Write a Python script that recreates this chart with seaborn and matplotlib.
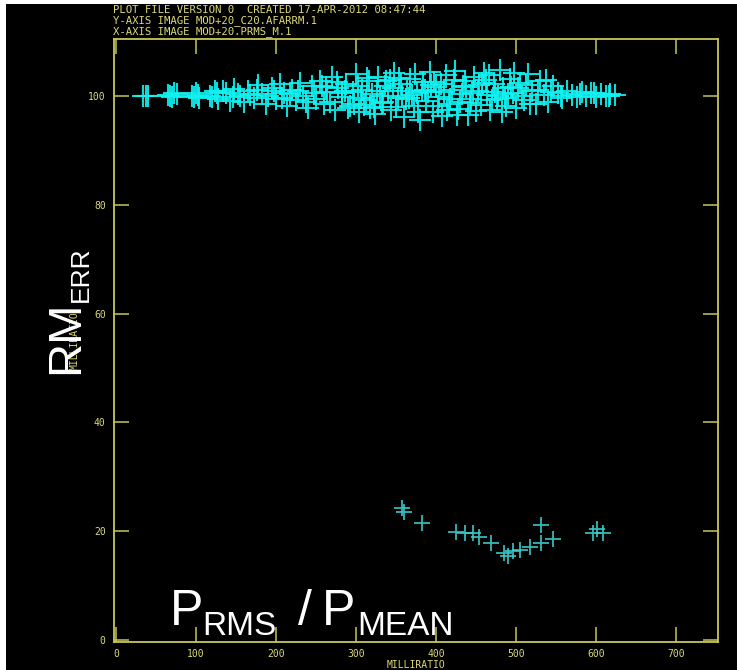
import matplotlib
matplotlib.use("Agg")
import matplotlib.pyplot as plt
from matplotlib.patches import Rectangle
import seaborn as sns
import pandas as pd

W, H = 737, 670

# header lines
HEADER = [
    "PLOT FILE VERSION 0  CREATED 17-APR-2012 08:47:44",
    "Y-AXIS IMAGE MOD+20_C20.AFARRM.1",
    "X-AXIS IMAGE MOD+20.PRMS_M.1",
]
X_LABEL = "MILLIRATIO"
Y_LABEL = "MILLIRATIO"
X_TICKS = [0, 100, 200, 300, 400, 500, 600, 700]
Y_TICKS = [0, 20, 40, 60, 80, 100]

# main band near 100 (PRMS/PMEAN in milliratio, RMERR)
band_x = [34, 37, 65, 70, 76, 95, 100, 104, 118, 124, 128, 138, 142, 148, 155, 160,
          165, 172, 178, 183, 188, 195, 200, 205, 210, 214, 220, 225, 230, 234, 240,
          245, 250, 255, 260, 264, 270, 274, 278, 283, 288, 292, 296, 300, 304, 308,
          312, 316, 320, 324, 328, 332, 336, 340, 344, 348, 352, 356, 360, 364, 368,
          372, 376, 380, 384, 388, 392, 396, 400, 404, 408, 412, 416, 420, 424, 428,
          432, 436, 440, 444, 448, 452, 456, 460, 464, 468, 472, 476, 480, 484, 488,
          492, 496, 500, 505, 510, 515, 520, 525, 530, 535, 540, 546, 552, 558, 564,
          570, 576, 582, 588, 594, 600, 606, 612, 618, 624,
          262, 286, 310, 334, 358, 382, 406, 430, 454, 478, 502, 318, 342, 366, 390,
          414, 438, 462, 486, 298, 346, 394, 442, 490,
          40, 68, 72, 98, 102, 120, 126, 134, 146, 152, 168, 176, 190, 198, 208,
          218, 228, 238, 248, 258, 268, 276, 282, 290, 302, 306, 314, 322, 326, 330,
          338, 350, 354, 362, 370, 374, 378, 386, 398, 402, 410, 418, 422, 426, 434,
          446, 450, 458, 466, 470, 474, 482, 494, 498, 508, 512, 518, 528, 538, 544,
          556, 580, 598, 616]
band_y = [100.0, 100.0, 100.2, 99.9, 100.4, 100.0, 100.6, 99.6, 100.1, 101.0, 99.4,
          100.5, 99.1, 101.3, 100.0, 98.9, 101.0, 99.7, 102.0, 100.3, 98.5, 101.5,
          99.4, 102.3, 100.6, 98.2, 101.2, 99.2, 102.5, 100.0, 97.8, 101.8, 99.5,
          102.8, 98.5, 100.8, 103.5, 97.5, 101.5, 99.8, 102.2, 98.2, 100.7, 104.0,
          97.0, 101.2, 99.2, 102.8, 100.3, 96.8, 103.6, 98.8, 101.8, 100.9, 97.5,
          104.2, 99.6, 102.3, 96.2, 101.0, 103.2, 98.2, 100.5, 95.6, 102.6, 99.1,
          104.4, 97.0, 101.6, 99.9, 96.3, 103.8, 98.6, 101.2, 104.6, 97.6, 100.3,
          102.7, 96.5, 99.4, 103.5, 101.0, 98.4, 104.3, 100.2, 97.5, 102.2, 99.5,
          104.8, 101.5, 98.2, 103.2, 100.6, 97.8, 102.5, 99.3, 104.0, 101.0, 98.5,
          102.8, 100.2, 99.0, 101.8, 100.5, 99.6, 101.0, 100.2, 99.8, 100.8, 100.1,
          100.5, 99.9, 100.4, 100.1, 100.3, 100.2,
          101.6, 100.9, 98.4, 99.0, 100.0, 101.0, 102.2, 99.0, 102.0, 100.0, 101.4,
          97.8, 103.0, 99.6, 100.8, 97.4, 101.6, 103.0, 99.6, 98.6, 101.4, 102.0,
          98.8, 100.4,
          100.1, 100.0, 100.5, 99.8, 100.2, 99.8, 100.6, 100.9, 99.8, 100.4, 100.2,
          101.2, 100.0, 100.9, 99.6, 100.4, 101.0, 99.0, 100.5, 101.8, 99.0, 102.6,
          100.6, 97.8, 101.8, 99.6, 103.4, 98.0, 101.0, 100.0, 102.8, 98.0, 103.4,
          99.4, 100.2, 104.0, 97.0, 101.2, 102.6, 98.2, 100.8, 99.4, 103.0, 96.6,
          101.8, 100.6, 97.2, 102.4, 103.8, 99.2, 100.8, 97.0, 101.6, 104.2, 100.0,
          102.0, 98.6, 101.2, 103.0, 100.8, 100.0, 100.4, 100.6, 100.0]

# low group near 20
low_x = [357, 360, 382, 425, 436, 446, 454, 469, 485, 490, 496, 505, 517, 531,
         531, 546, 596, 601, 609]
low_y = [24.3, 23.5, 21.5, 19.9, 19.7, 19.6, 19.0, 17.8, 16.0, 15.4, 16.4, 16.5,
         17.1, 21.1, 17.8, 18.6, 19.7, 20.4, 19.7]

LINE = "#c9c65a"
TXT = "#dcd878"


def fx(px):
    return px / W


def fy(py):
    return 1 - py / H


sns.set_style("dark")
plt.rcParams["font.family"] = ["DejaVu Sans Mono"]

fig = plt.figure(figsize=(W / 100, H / 100), dpi=100, facecolor="white")
fig.add_artist(Rectangle((fx(6), 0), 1 - fx(6), fy(4), transform=fig.transFigure,
                         facecolor="black", edgecolor="none", zorder=-10))

ax = fig.add_axes([fx(114), fy(642), fx(718) - fx(114), fy(39) - fy(642)])
ax.set_facecolor("black")

band = pd.DataFrame({"x": band_x, "y": band_y})
low = pd.DataFrame({"x": low_x, "y": low_y})
sns.scatterplot(data=band, x="x", y="y", marker="+", s=260, color="#12f2f2",
                linewidth=1.5, alpha=0.9, ax=ax)
sns.scatterplot(data=low, x="x", y="y", marker="+", s=120, color="#3ccccc",
                linewidth=1.3, alpha=0.9, ax=ax)

ax.set_xlim(-2.5, 752.5)
ax.set_ylim(-0.37, 110.5)
ax.set_xticks(X_TICKS)
ax.set_yticks(Y_TICKS)
ax.grid(False)
for s in ax.spines.values():
    s.set_visible(True)
    s.set_color(LINE)
    s.set_linewidth(1.3)
ax.tick_params(direction="in", length=11, width=1.1, color=LINE, labelcolor=TXT,
               labelsize=7, top=True, right=True, bottom=True, left=True)
ax.tick_params(axis="x", pad=5)
ax.tick_params(axis="y", pad=6)
ax.set_xlabel(X_LABEL, color=TXT, fontsize=7, labelpad=1)
ax.set_ylabel(Y_LABEL, color=TXT, fontsize=7, labelpad=6)

for i, line in enumerate(HEADER):
    fig.text(fx(113), fy(10 + 11 * i), line, color=TXT, fontsize=7.7,
             va="center", ha="left")

# big overlay labels
big = dict(color="white", family=["Liberation Sans", "DejaVu Sans"])
fig.text(fx(170), fy(625), "P", fontsize=36, va="baseline", ha="left", **big)
fig.text(fx(202), fy(635), "RMS", fontsize=24, va="baseline", ha="left", **big)
fig.text(fx(298), fy(625), "/", fontsize=36, va="baseline", ha="left", **big)
fig.text(fx(322), fy(625), "P", fontsize=36, va="baseline", ha="left", **big)
fig.text(fx(357), fy(635), "MEAN", fontsize=24, va="baseline", ha="left", **big)

fig.text(fx(78), fy(374), "RM", fontsize=34, rotation=90, va="baseline",
         ha="left", rotation_mode="anchor", **big)
fig.text(fx(88), fy(302), "ERR", fontsize=19, rotation=90, va="baseline",
         ha="left", rotation_mode="anchor", **big)

fig.savefig("out.png", dpi=100, facecolor="white")
